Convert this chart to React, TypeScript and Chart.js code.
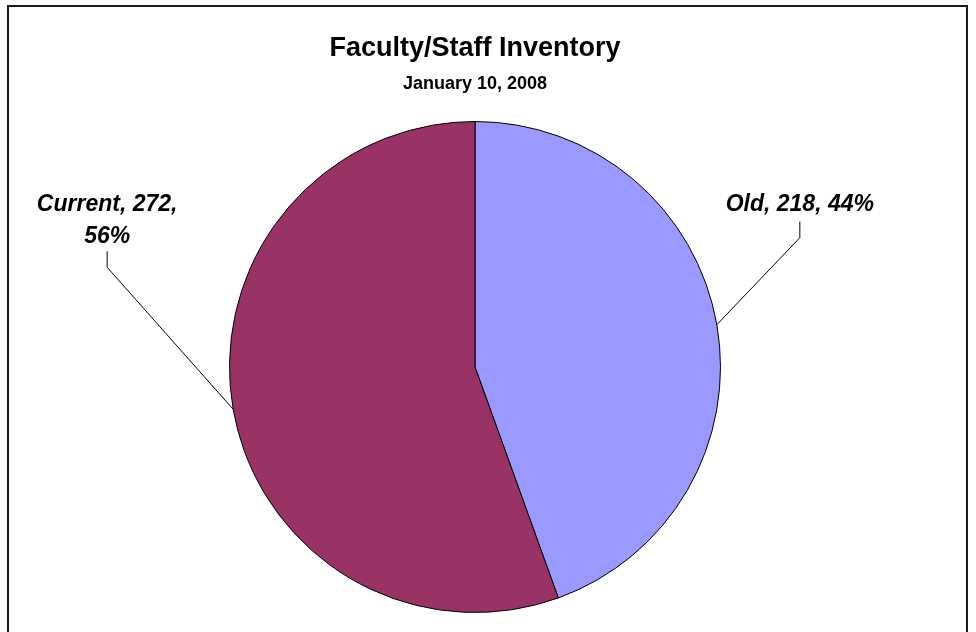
import React, { useEffect, useRef } from "react";
import { Chart, registerables } from "chart.js";

Chart.register(...registerables);

const categories = ["Old", "Current"];
const values = [218, 272];
const percents = ["44%", "56%"];
const sliceColors = ["#9999FF", "#993366"];
const titleText = "Faculty/Staff Inventory";
const subtitleText = "January 10, 2008";

// label layout: elbow offset from the slice's outer edge point, gap above the tick, and text lines
const labelLines = [
  [`${categories[0]}, ${values[0]}, ${percents[0]}`],
  [`${categories[1]}, ${values[1]},`, percents[1]],
];
const elbowOffsets = [
  [83, -87],
  [-126, -142],
];
const textGaps = [17, 15];

const FONT = "'Liberation Sans', Arial, Helvetica, sans-serif";

const decorPlugin = {
  id: "decor",
  beforeDraw(chart: any) {
    const ctx = chart.ctx;
    ctx.save();
    ctx.fillStyle = "#ffffff";
    ctx.fillRect(0, 0, chart.width, chart.height);
    ctx.strokeStyle = "#1a1a1a";
    ctx.lineWidth = 2;
    ctx.strokeRect(8, 6, 959, 640);
    ctx.restore();
  },
  afterDraw(chart: any) {
    const ctx = chart.ctx;
    const meta = chart.getDatasetMeta(0);
    ctx.save();
    ctx.fillStyle = "#000";
    ctx.textAlign = "center";
    ctx.textBaseline = "middle";
    ctx.font = `bold 27px ${FONT}`;
    ctx.fillText(titleText, 475, 49);
    ctx.font = `bold 18px ${FONT}`;
    ctx.fillText(subtitleText, 475, 84);

    meta.data.forEach((arc: any, i: number) => {
      const mid = (arc.startAngle + arc.endAngle) / 2;
      const ex = arc.x + Math.cos(mid) * arc.outerRadius;
      const ey = arc.y + Math.sin(mid) * arc.outerRadius;
      const bx = ex + elbowOffsets[i][0];
      const by = ey + elbowOffsets[i][1];
      const ty = by - 16;
      ctx.strokeStyle = "#000";
      ctx.lineWidth = 1;
      ctx.beginPath();
      ctx.moveTo(ex, ey);
      ctx.lineTo(bx, by);
      ctx.lineTo(bx, ty);
      ctx.stroke();
      ctx.font = `italic bold 23px ${FONT}`;
      ctx.textAlign = "center";
      ctx.textBaseline = "middle";
      const lines = labelLines[i];
      const lh = 32;
      lines.forEach((ln, k) => {
        const y = ty - textGaps[i] - (lines.length - 1 - k) * lh;
        ctx.fillText(ln, bx, y);
      });
    });
    ctx.restore();
  },
};

export default function App() {
  const ref = useRef<HTMLCanvasElement | null>(null);
  useEffect(() => {
    if (!ref.current) return;
    const chart = new Chart(ref.current, {
      type: "pie",
      data: {
        labels: categories,
        datasets: [
          {
            data: values,
            backgroundColor: sliceColors,
            borderColor: "#000",
            borderWidth: 1,
          },
        ],
      },
      options: {
        responsive: false,
        animation: false,
        layout: { padding: { top: 121, bottom: 19, left: 229, right: 255 } },
        plugins: {
          legend: { display: false },
          tooltip: { enabled: false },
          title: { display: false },
        },
      },
      plugins: [decorPlugin],
    });
    return () => chart.destroy();
  }, []);
  return (
    <div style={{ position: "fixed", left: 0, top: 0, width: 976, height: 632 }}>
      <canvas ref={ref} width={976} height={632} style={{ width: 976, height: 632, display: "block" }} />
    </div>
  );
}
